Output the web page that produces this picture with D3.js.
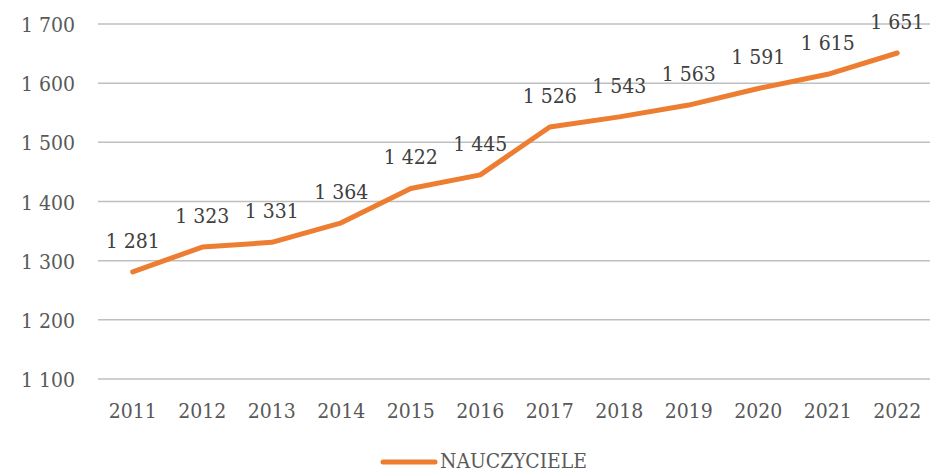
<!DOCTYPE html>
<html><head><meta charset="utf-8">
<script src="https://cdn.jsdelivr.net/npm/d3@7"></script>
<style>body{margin:0;background:#fff} text{font-stretch:condensed}</style>
</head><body>
<svg id="c" width="930" height="472"></svg>
<script>
const years = ["2011","2012","2013","2014","2015","2016","2017","2018","2019","2020","2021","2022"];
const nauczyciele = [1281,1323,1331,1364,1422,1445,1526,1543,1563,1591,1615,1651];
const yTicks = [1100,1200,1300,1400,1500,1600,1700];
const seriesName = "NAUCZYCIELE";

const fmt = v => d3.format(",")(v).replace(/,/g, " ");
const svg = d3.select("#c");
const font = "'DejaVu Serif Condensed', 'DejaVu Serif', serif";
const fs = 21;
const x = d3.scaleBand().domain(years).range([98, 932]);
const y = d3.scaleLinear().domain([1100, 1700]).range([379, 24]);

// grid
svg.append("g").selectAll("line").data(yTicks).join("line")
  .attr("x1", 98).attr("x2", 930)
  .attr("y1", d => y(d)).attr("y2", d => y(d))
  .attr("stroke", "#bfbfbf").attr("stroke-width", 1.5);

// y labels
svg.append("g").selectAll("text").data(yTicks).join("text")
  .attr("x", 75).attr("y", d => y(d) + 8)
  .attr("text-anchor", "end").attr("font-family", font).attr("font-size", fs)
  .attr("fill", "#595959").text(d => fmt(d));

// x labels
svg.append("g").selectAll("text").data(years).join("text")
  .attr("x", d => x(d) + x.bandwidth()/2).attr("y", 418)
  .attr("text-anchor", "middle").attr("font-family", font).attr("font-size", fs)
  .attr("fill", "#595959").text(d => d);

// line
const pts = years.map((d, i) => [x(d) + x.bandwidth()/2, y(nauczyciele[i])]);
svg.append("path").datum(pts)
  .attr("d", d3.line())
  .attr("fill", "none").attr("stroke", "#ED7D31").attr("stroke-width", 5)
  .attr("stroke-linejoin", "round").attr("stroke-linecap", "round");

// data labels
svg.append("g").selectAll("text").data(years).join("text")
  .attr("x", (d, i) => pts[i][0]).attr("y", (d, i) => pts[i][1] - 24)
  .attr("text-anchor", "middle").attr("font-family", font).attr("font-size", fs)
  .attr("fill", "#404040").text((d, i) => fmt(nauczyciele[i]));

// legend
svg.append("line").attr("x1", 383).attr("x2", 435).attr("y1", 462).attr("y2", 462)
  .attr("stroke", "#ED7D31").attr("stroke-width", 5).attr("stroke-linecap", "round");
svg.append("text").attr("x", 440).attr("y", 468)
  .attr("font-family", font).attr("font-size", 21)
  .attr("textLength", 147).attr("lengthAdjust", "spacingAndGlyphs")
  .attr("fill", "#595959").text(seriesName);
</script>
</body></html>
